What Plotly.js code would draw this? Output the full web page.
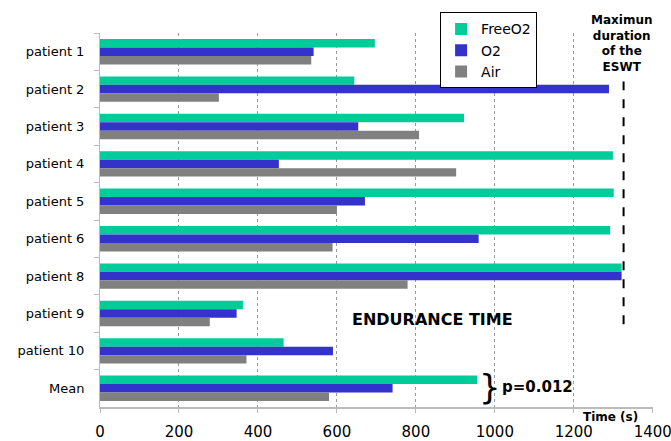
<!DOCTYPE html>
<html>
<head>
<meta charset="utf-8">
<script src="https://cdn.plot.ly/plotly-3.0.1.min.js"></script>
<style>html,body{margin:0;padding:0;background:#fff;}#chart{width:671px;height:441px;}</style>
</head>
<body>
<div id="chart"></div>
<script>
const categories = ["patient 1","patient 2","patient 3","patient 4","patient 5","patient 6","patient 8","patient 9","patient 10","Mean"];
const freeO2 = [696, 644, 922, 1299, 1301, 1292, 1321, 362, 465, 955];
const o2     = [541, 1289, 654, 453, 671, 959, 1321, 346, 590, 741];
const air    = [535, 301, 808, 902, 600, 589, 779, 278, 371, 580];
const maxDuration = 1326;
const xTicks = [0,200,400,600,800,1000,1200,1400];

const FONT = "DejaVu Sans, sans-serif";
const mk = (name, vals, color) => ({
  type: "bar", orientation: "h", name: name, y: categories, x: vals,
  marker: {color: color, line: {width: 0}}, hoverinfo: "x+y"
});
const data = [
  mk("FreeO2", freeO2, "#00CC99"),
  mk("O2", o2, "#3333CC"),
  mk("Air", air, "#808080")
];
const ann = (x, y, text, size) => ({xref: "x", yref: "paper", x: x, y: y, text: text,
  showarrow: false, xanchor: "center", yanchor: "middle", align: "center",
  font: {size: size, family: FONT, color: "#000"}});
const layout = {
  width: 671, height: 441,
  margin: {l: 100, r: 18, t: 33, b: 34},
  paper_bgcolor: "#fff", plot_bgcolor: "#fff",
  barmode: "group", bargap: 0.32, bargroupgap: 0,
  font: {family: FONT, color: "#000", size: 13},
  showlegend: true,
  legend: {x: 0.615, y: 1.055, xanchor: "left", yanchor: "top",
    bordercolor: "#000", borderwidth: 1, bgcolor: "#fff",
    font: {size: 14, family: FONT}, traceorder: "normal", tracegroupgap: 0,
    itemwidth: 30},
  xaxis: {range: [0, 1400.5], tickvals: xTicks, ticktext: xTicks.map(String),
    showgrid: true, gridcolor: "#999", griddash: "dot", gridwidth: 1,
    zeroline: false, showline: true, linecolor: "#bbb", linewidth: 2,
    ticks: "outside", ticklen: 4, tickcolor: "#bbb", ticklabeloverflow: "allow",
    ticklabelstandoff: 6,
    tickfont: {size: 15, family: FONT}, fixedrange: true},
  yaxis: {type: "category", autorange: "reversed", showgrid: false,
    showline: true, linecolor: "#bbb", linewidth: 1,
    ticks: "outside", ticklen: 5, tickcolor: "#bbb", tickson: "boundaries",
    ticklabelstandoff: 12,
    tickfont: {size: 13, family: FONT}, fixedrange: true},
  shapes: [
    {type: "rect", xref: "x", yref: "paper", x0: 1245, x1: 1401, y0: 0.872, y1: 1.0,
     fillcolor: "#fff", line: {width: 0}, layer: "above"},
    {type: "line", xref: "x", yref: "paper", x0: maxDuration, x1: maxDuration,
     y0: 0.221, y1: 0.870, line: {color: "#000", width: 2, dash: "dash"}}
  ],
  annotations: [
    ann(maxDuration - 6, 0.973, "<b>Maximun<br>duration<br>of the<br>ESWT</b>", 12),
    ann(843, 0.234, "<b>ENDURANCE TIME</b>", 16),
    ann(988, 0.053, "}", 34),
    ann(1107, 0.053, "<b>p=0.012</b>", 15),
    ann(1294, -0.028, "<b>Time (s)</b>", 12)
  ]
};
Plotly.newPlot("chart", data, layout, {staticPlot: true, displayModeBar: false});
</script>
</body>
</html>
